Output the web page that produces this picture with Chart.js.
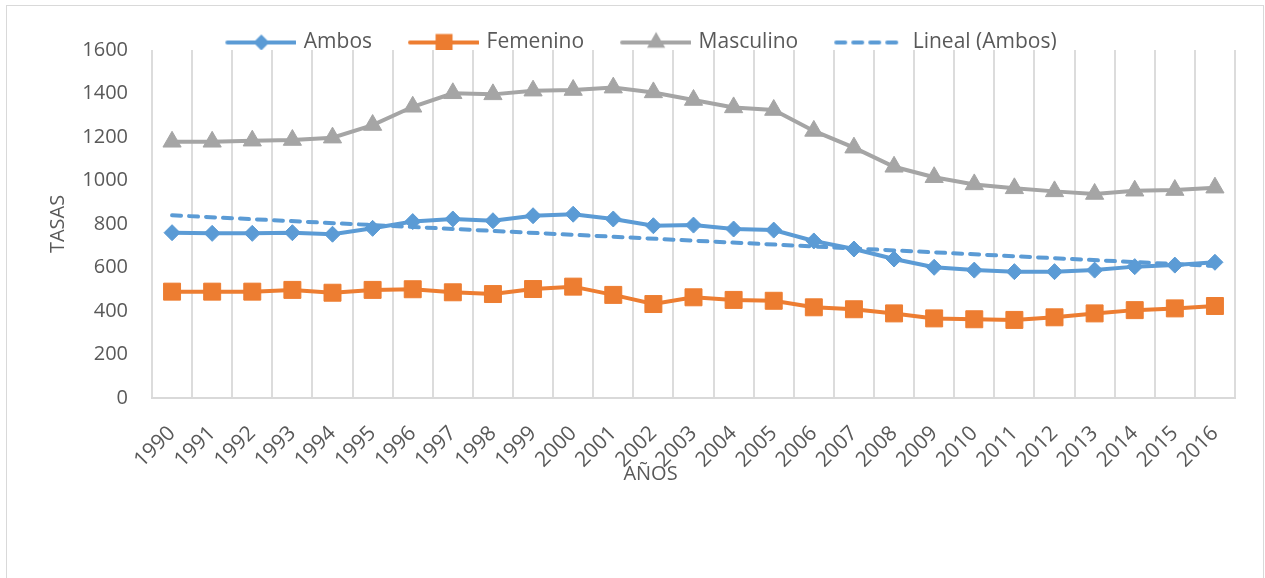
<!DOCTYPE html>
<html lang="es">
<head>
<meta charset="utf-8">
<title>Tasas por año</title>
<script src="https://cdn.jsdelivr.net/npm/chart.js@4.4.1/dist/chart.umd.min.js"></script>
<style>
  html, body { margin: 0; padding: 0; background: #fff; overflow: hidden; }
  #wrap { position: relative; width: 1265px; height: 578px; }
</style>
</head>
<body>
<div id="wrap"><canvas id="c" width="1265" height="578"></canvas></div>
<script>
// Años del periodo
const years = ['1990','1991','1992','1993','1994','1995','1996','1997','1998','1999',
               '2000','2001','2002','2003','2004','2005','2006','2007','2008','2009',
               '2010','2011','2012','2013','2014','2015','2016'];

// Tasas por sexo
const ambos     = [760, 757, 757, 760, 753, 780, 811, 823, 815, 838, 845, 823, 792, 795,
                   777, 772, 722, 685, 639, 601, 588, 581, 581, 588, 604, 611, 624];
const femenino  = [489, 489, 489, 497, 484, 497, 500, 486, 478, 501, 512, 474, 432, 463,
                   451, 447, 417, 408, 389, 366, 362, 359, 371, 389, 404, 412, 423];
const masculino = [1178, 1178, 1183, 1186, 1197, 1255, 1339, 1401, 1396, 1413, 1416, 1427, 1405, 1370,
                   1336, 1324, 1228, 1151, 1063, 1015, 982, 964, 950, 938, 953, 956, 967];

// Tendencia lineal de "Ambos": valores al inicio y al final del periodo
const tendenciaExtremos = [840, 607];

// Marcas del eje vertical
const yTicks = [0, 200, 400, 600, 800, 1000, 1200, 1400, 1600];

const AZUL = '#5B9BD5', NARANJA = '#ED7D31', GRIS = '#A5A5A5', TEXTO = '#595959';
const GROSOR = 4;

const tendencia = years.map((_, i) =>
  i === 0 ? tendenciaExtremos[0] : (i === years.length - 1 ? tendenciaExtremos[1] : null));

Chart.defaults.font.family = "'Open Sans', sans-serif";
Chart.defaults.color = TEXTO;

// Dibuja un marcador simple (rombo, cuadrado o triángulo)
function drawMarker(g, style, x, y, r, color) {
  g.fillStyle = color;
  g.beginPath();
  if (style === 'rectRot') {
    g.moveTo(x, y - r); g.lineTo(x + r, y); g.lineTo(x, y + r); g.lineTo(x - r, y);
  } else if (style === 'rect') {
    const s = r * Math.SQRT1_2;
    g.rect(x - s, y - s, 2 * s, 2 * s);
  } else if (style === 'triangle') {
    g.moveTo(x, y - r);
    g.lineTo(x + r * Math.sin(2 * Math.PI / 3), y - r * Math.cos(2 * Math.PI / 3));
    g.lineTo(x - r * Math.sin(2 * Math.PI / 3), y - r * Math.cos(2 * Math.PI / 3));
  }
  g.closePath();
  g.fill();
}

// Muestra de leyenda: línea con marcador centrado
function legendSwatch(color, marker, radius, dashed) {
  const c = document.createElement('canvas');
  c.width = 100; c.height = 28;
  const g = c.getContext('2d');
  g.strokeStyle = color;
  g.lineWidth = GROSOR;
  g.lineCap = 'round';
  if (dashed) g.setLineDash([9, 8]);
  g.beginPath();
  g.moveTo(31, 14);
  g.lineTo(99, 14);
  g.stroke();
  g.setLineDash([]);
  if (marker) drawMarker(g, marker, 65, 14, radius, color);
  return c;
}

const swatches = [
  legendSwatch(AZUL, 'rectRot', 8, false),
  legendSwatch(NARANJA, 'rect', 12, false),
  legendSwatch(GRIS, 'triangle', 10.5, false),
  legendSwatch(AZUL, null, 0, true)
];

// Marco del gráfico
const framePlugin = {
  id: 'frame',
  beforeDraw(chart) {
    const g = chart.ctx;
    g.save();
    g.fillStyle = '#ffffff';
    g.fillRect(0, 0, chart.width, chart.height);
    g.strokeStyle = '#D9D9D9';
    g.lineWidth = 1;
    g.strokeRect(6.5, 5.5, chart.width - 8, chart.height + 20);
    g.restore();
  }
};

// Título del eje horizontal
const xTitlePlugin = {
  id: 'xTitle',
  afterDraw(chart) {
    const g = chart.ctx;
    g.save();
    g.font = "20px 'Open Sans', sans-serif";
    g.fillStyle = TEXTO;
    g.textAlign = 'center';
    g.textBaseline = 'middle';
    g.fillText('AÑOS', chart.width / 2 + 18, 474);
    g.restore();
  }
};

new Chart(document.getElementById('c'), {
  type: 'line',
  data: {
    labels: years,
    datasets: [
      {
        label: 'Ambos', data: ambos, order: 0,
        borderColor: AZUL, backgroundColor: AZUL, borderWidth: GROSOR,
        pointStyle: 'rectRot', pointRadius: 8, pointBorderWidth: 1,
        pointBackgroundColor: AZUL, pointBorderColor: AZUL, tension: 0
      },
      {
        label: 'Femenino', data: femenino, order: 2,
        borderColor: NARANJA, backgroundColor: NARANJA, borderWidth: GROSOR,
        pointStyle: 'rect', pointRadius: 12, pointBorderWidth: 1,
        pointBackgroundColor: NARANJA, pointBorderColor: NARANJA, tension: 0
      },
      {
        label: 'Masculino', data: masculino, order: 3,
        borderColor: GRIS, backgroundColor: GRIS, borderWidth: GROSOR,
        pointStyle: 'triangle', pointRadius: 10.5, pointBorderWidth: 1,
        pointBackgroundColor: GRIS, pointBorderColor: GRIS, tension: 0
      },
      {
        label: 'Lineal (Ambos)', data: tendencia, order: 1,
        borderColor: AZUL, borderWidth: GROSOR, borderDash: [9, 8], borderCapStyle: 'round',
        pointRadius: 0, spanGaps: true, tension: 0
      }
    ]
  },
  options: {
    responsive: false,
    animation: false,
    events: [],
    layout: { padding: { top: 22, left: 21, right: 30, bottom: 0 } },
    plugins: {
      tooltip: { enabled: false },
      legend: {
        position: 'top',
        maxHeight: 28,
        labels: {
          usePointStyle: true,
          pointStyleWidth: 94,
          padding: 10,
          color: TEXTO,
          font: { size: 21 },
          generateLabels(chart) {
            return chart.data.datasets.map((ds, i) => ({
              text: ds.label,
              pointStyle: swatches[i],
              fillStyle: ds.borderColor,
              strokeStyle: ds.borderColor,
              lineWidth: 0,
              fontColor: TEXTO,
              hidden: false,
              datasetIndex: i
            }));
          }
        }
      }
    },
    scales: {
      x: {
        type: 'category',
        offset: true,
        grid: { offset: true, color: '#DCDCDC', lineWidth: 2, drawTicks: false },
        border: { color: '#D9D9D9', width: 2 },
        ticks: {
          autoSkip: false, minRotation: 45, maxRotation: 45,
          padding: 23, color: TEXTO, font: { size: 21 }
        },
        afterFit(scale) { scale.height = 180; }
      },
      y: {
        min: yTicks[0],
        max: yTicks[yTicks.length - 1],
        afterBuildTicks(scale) { scale.ticks = yTicks.map(v => ({ value: v })); },
        grid: { display: false, drawTicks: false },
        border: { display: false },
        ticks: {
          padding: 24, color: TEXTO, font: { size: 20 },
          callback: (v) => String(v)
        },
        title: {
          display: true, text: 'TASAS', color: TEXTO,
          font: { size: 20 }, padding: { top: 25, bottom: 0 }
        },
        afterFit(scale) { scale.width = 131; }
      }
    }
  },
  plugins: [framePlugin, xTitlePlugin]
});
</script>
</body>
</html>
